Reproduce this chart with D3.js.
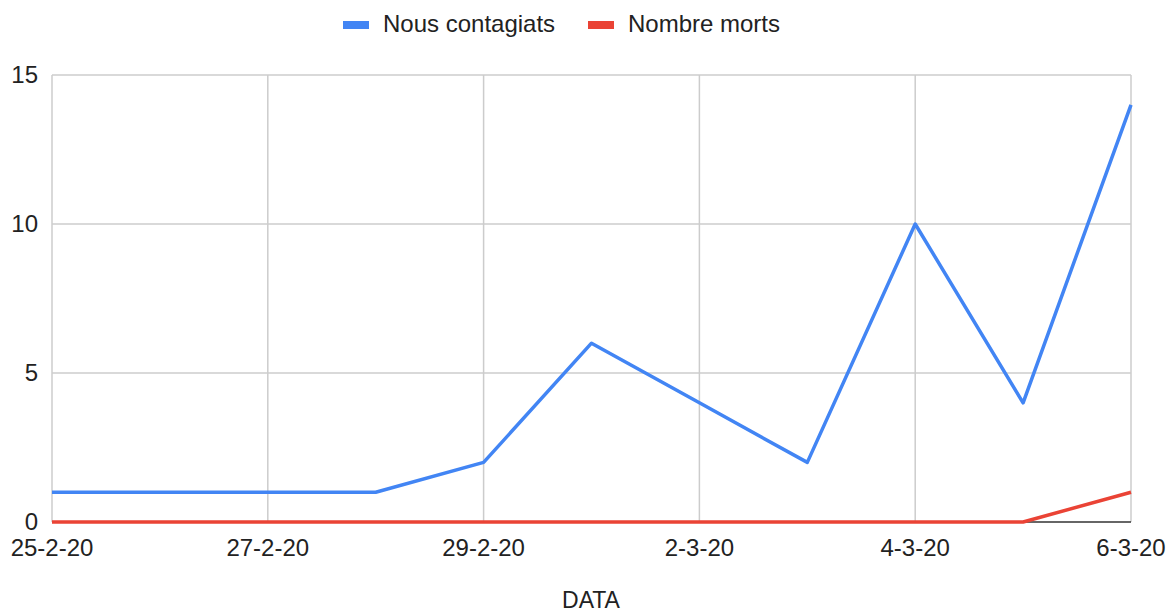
<!DOCTYPE html>
<html><head><meta charset="utf-8">
<script src="https://cdn.jsdelivr.net/npm/d3@7"></script>
<style>body{margin:0;background:#fff}svg text{font-family:"Liberation Sans",Arial,sans-serif;fill:#222}</style>
</head><body><svg id="c" width="1167" height="615"></svg>
<script>
const categories = ["25-2-20","26-2-20","27-2-20","28-2-20","29-2-20","1-3-20","2-3-20","3-3-20","4-3-20","5-3-20","6-3-20"];
const contagiats = [1,1,1,1,2,6,4,2,10,4,14];
const morts = [0,0,0,0,0,0,0,0,0,0,1];
const yTicks = [0,5,10,15];
const xTickLabels = ["25-2-20","27-2-20","29-2-20","2-3-20","4-3-20","6-3-20"];
const seriesNames = ["Nous contagiats","Nombre morts"];
const colors = ["#4285f4","#ea4335"];

const svg = d3.select("#c");
const m = {l:52, r:1131, t:75, b:522};
const x = d3.scalePoint().domain(categories).range([m.l, m.r]);
const y = d3.scaleLinear().domain([0,15]).range([m.b, m.t]);

svg.append("g").selectAll("line").data(yTicks.filter(d=>d>0)).join("line")
  .attr("x1", m.l).attr("x2", m.r).attr("y1", d=>y(d)).attr("y2", d=>y(d))
  .attr("stroke","#cccccc").attr("stroke-width",1.5);
svg.append("g").selectAll("line").data(xTickLabels).join("line")
  .attr("x1", d=>x(d)).attr("x2", d=>x(d)).attr("y1", m.t).attr("y2", m.b)
  .attr("stroke","#cccccc").attr("stroke-width",1.5);

svg.append("g").selectAll("text").data(yTicks).join("text")
  .attr("x", 38).attr("y", d=>y(d)).attr("dy","0.35em").attr("text-anchor","end")
  .attr("font-size",24).text(d=>d);
svg.append("g").selectAll("text").data(xTickLabels).join("text")
  .attr("x", d=>x(d)).attr("y", 556).attr("text-anchor","middle")
  .attr("font-size",24).text(d=>d);
svg.append("text").attr("x",591).attr("y",608).attr("text-anchor","middle").attr("font-size",23).text("DATA");

svg.append("line").attr("x1",m.l).attr("x2",m.r).attr("y1",y(0)).attr("y2",y(0)).attr("stroke","#333").attr("stroke-width",1.5);

const line = d3.line().x((d,i)=>x(categories[i])).y(d=>y(d));
[contagiats, morts].forEach((s,k)=>{
  svg.append("path").datum(s).attr("d", line).attr("fill","none")
    .attr("stroke", colors[k]).attr("stroke-width",3.5).attr("stroke-linejoin","round");
});

const leg = [{x:343, tx:383},{x:588, tx:628}];
seriesNames.forEach((n,k)=>{
  svg.append("rect").attr("x",leg[k].x).attr("y",21).attr("width",26).attr("height",8).attr("fill",colors[k]);
  svg.append("text").attr("x",leg[k].tx).attr("y",24).attr("dy","0.35em").attr("font-size",24).text(n);
});
</script></body></html>
